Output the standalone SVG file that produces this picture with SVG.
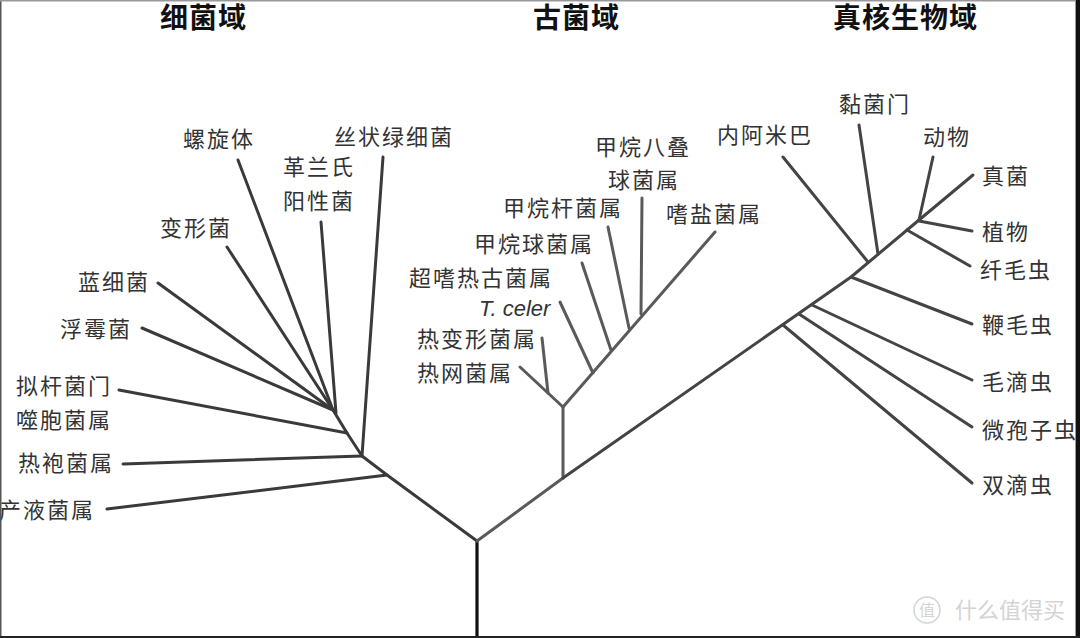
<svg xmlns="http://www.w3.org/2000/svg" width="1080" height="638" viewBox="0 0 1080 638">
<style>
.lbl{font-family:"Noto Sans CJK SC","Noto Sans",sans-serif;font-size:22px;letter-spacing:2px;fill:#333}
.hdr{font-family:"Noto Sans CJK SC","Noto Sans",sans-serif;font-size:28px;font-weight:bold;letter-spacing:1px;fill:#111}
.lat{font-family:"Liberation Sans",Arial,sans-serif;font-size:22px;font-style:italic;fill:#333}
.b{stroke:#3a3a3a;stroke-width:3;fill:none;stroke-linecap:round;stroke-linejoin:round}
.a{stroke:#5a5a5a;stroke-width:3;fill:none;stroke-linecap:round;stroke-linejoin:round}
.e{stroke:#444;stroke-width:3;fill:none;stroke-linecap:round;stroke-linejoin:round}
.r{stroke:#111;stroke-width:3.2;fill:none}
.wm{font-family:"Noto Sans CJK SC",sans-serif;fill:#d4d4d4}
</style>
<rect width="1080" height="638" fill="#fff"/>

<g id="connectors">
  <line class="r" x1="477" y1="541" x2="477" y2="637"/>
  <!-- bacteria -->
  <polyline class="b" points="477,541 387,475 362,456 347,433 333,410"/>
  <line class="b" x1="387" y1="475" x2="107" y2="509"/>
  <line class="b" x1="362" y1="456" x2="123" y2="464"/>
  <line class="b" x1="362" y1="456" x2="383" y2="157"/>
  <line class="b" x1="347" y1="433" x2="119" y2="390"/>
  <line class="b" x1="336" y1="413" x2="321" y2="222"/>
  <line class="b" x1="333" y1="410" x2="238" y2="160"/>
  <line class="b" x1="333" y1="410" x2="227" y2="247"/>
  <line class="b" x1="333" y1="410" x2="158" y2="283"/>
  <line class="b" x1="333" y1="410" x2="142" y2="328"/>
  <!-- archaea -->
  <line class="a" x1="477" y1="541" x2="563" y2="478"/>
  <line class="a" x1="563" y1="478" x2="563" y2="407"/>
  <line class="a" x1="563" y1="407" x2="520" y2="367"/>
  <line class="a" x1="548" y1="393" x2="542" y2="338"/>
  <line class="a" x1="563" y1="407" x2="715" y2="232"/>
  <line class="a" x1="593" y1="373" x2="560" y2="302"/>
  <line class="a" x1="611" y1="350" x2="582" y2="263"/>
  <line class="a" x1="629" y1="328" x2="608" y2="227"/>
  <line class="a" x1="641" y1="314" x2="642" y2="198"/>
  <!-- eukaryota -->
  <polyline class="e" points="563,478 851,277 919,220"/>
  <line class="e" x1="868" y1="262" x2="783" y2="157"/>
  <line class="e" x1="878" y1="254" x2="859" y2="125"/>
  <line class="e" x1="919" y1="220" x2="933" y2="157"/>
  <line class="e" x1="919" y1="220" x2="973" y2="175"/>
  <line class="e" x1="919" y1="221" x2="972" y2="231"/>
  <line class="e" x1="907" y1="230" x2="970" y2="266"/>
  <line class="e" x1="851" y1="277" x2="972" y2="324"/>
  <line class="e" x1="812" y1="305" x2="972" y2="380"/>
  <line class="e" x1="799" y1="314" x2="972" y2="427"/>
  <line class="e" x1="783" y1="325" x2="972" y2="483"/>
</g>

<g id="headers">
  <text id="h-bacteria" class="hdr" x="160" y="28">细菌域</text>
  <text id="h-archaea" class="hdr" x="533" y="28">古菌域</text>
  <text id="h-eukarya" class="hdr" x="833" y="28">真核生物域</text>
</g>

<g id="n-spirochete"><text class="lbl" x="183" y="147">螺旋体</text></g>
<g id="n-chloroflexi"><text class="lbl" x="334" y="145">丝状绿细菌</text></g>
<g id="n-grampos"><text class="lbl" x="283" y="175">革兰氏</text><text class="lbl" x="283" y="209">阳性菌</text></g>
<g id="n-proteo"><text class="lbl" x="160" y="236">变形菌</text></g>
<g id="n-cyano"><text class="lbl" x="78" y="290">蓝细菌</text></g>
<g id="n-plancto"><text class="lbl" x="60" y="337">浮霉菌</text></g>
<g id="n-bactero"><text class="lbl" x="16" y="394">拟杆菌门</text><text class="lbl" x="16" y="428">噬胞菌属</text></g>
<g id="n-thermotoga"><text class="lbl" x="18" y="471">热袍菌属</text></g>
<g id="n-aquifex"><text class="lbl" x="-1" y="518">产液菌属</text></g>

<g id="n-pyrodictium"><text class="lbl" x="417" y="381">热网菌属</text></g>
<g id="n-thermoproteus"><text class="lbl" x="417" y="347">热变形菌属</text></g>
<g id="n-tceler"><text class="lat" x="479" y="316">T. celer</text></g>
<g id="n-pyrococcus"><text class="lbl" x="409" y="286">超嗜热古菌属</text></g>
<g id="n-methanococcus"><text class="lbl" x="474" y="252">甲烷球菌属</text></g>
<g id="n-methanobacterium"><text class="lbl" x="503" y="216">甲烷杆菌属</text></g>
<g id="n-methanosarcina"><text class="lbl" x="595" y="155">甲烷八叠</text><text class="lbl" x="608" y="188">球菌属</text></g>
<g id="n-halobacterium"><text class="lbl" x="666" y="222">嗜盐菌属</text></g>

<g id="n-entamoeba"><text class="lbl" x="717" y="143">内阿米巴</text></g>
<g id="n-slime"><text class="lbl" x="839" y="112">黏菌门</text></g>
<g id="n-animals"><text class="lbl" x="923" y="145">动物</text></g>
<g id="n-fungi"><text class="lbl" x="982" y="184">真菌</text></g>
<g id="n-plants"><text class="lbl" x="982" y="240">植物</text></g>
<g id="n-ciliates"><text class="lbl" x="980" y="278">纤毛虫</text></g>
<g id="n-flagellates"><text class="lbl" x="982" y="333">鞭毛虫</text></g>
<g id="n-trichomonads"><text class="lbl" x="982" y="390">毛滴虫</text></g>
<g id="n-microsporidia"><text class="lbl" x="982" y="438">微孢子虫</text></g>
<g id="n-diplomonads"><text class="lbl" x="982" y="493">双滴虫</text></g>

<g id="watermark">
  <circle cx="927" cy="610" r="13" fill="none" stroke="#d4d4d4" stroke-width="1.5"/>
  <text class="wm" x="927" y="616" font-size="16" text-anchor="middle">值</text>
  <text class="wm" x="955" y="618" font-size="22">什么值得买</text>
</g>

<g id="frame">
  <rect x="0" y="0" width="1.5" height="638" fill="#555"/>
  <rect x="0" y="0" width="1080" height="1.5" fill="#999"/>
  <rect x="1075" y="0" width="1" height="638" fill="#999"/>
  <rect x="1076" y="0" width="4" height="638" fill="#111"/>
  <rect x="0" y="636" width="1080" height="2" fill="#222"/>
</g>
</svg>
